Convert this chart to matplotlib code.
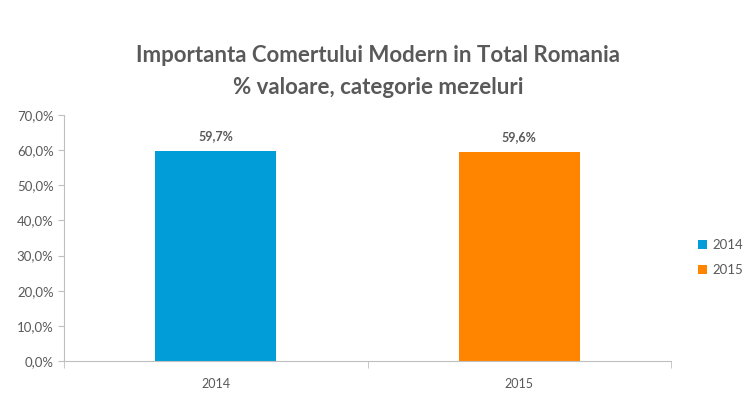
import numpy as np
import matplotlib.pyplot as plt

years = ['2014', '2015']
values = [59.7, 59.6]
labels = ['59,7%', '59,6%']
colors = ['#009DD9', '#FF8400']

plt.rcParams['font.family'] = ['Lato', 'DejaVu Sans']
gray = '#595959'

fig = plt.figure(figsize=(7.56, 4.19), dpi=100)
ax = fig.add_axes([64 / 756, 1 - 361 / 419, 607 / 756, (361 - 115) / 419])

x = np.arange(len(years))
bars = ax.bar(x, values, width=0.4, color=colors, label=years)
for xi, v, lab in zip(x, values, labels):
    ax.text(xi, v + 2.5, lab, ha='center', va='bottom', fontsize=9,
            fontweight='bold', color=gray)

ax.set_xlim(-0.5, 1.5)
ax.set_ylim(0, 70)
ax.set_yticks(np.arange(0, 71, 10))
ax.set_yticklabels([f'{t:.1f}%'.replace('.', ',') for t in np.arange(0, 71, 10)])
ax.set_xticks(x)
ax.set_xticklabels(years)
ax.set_xticks([-0.5, 0.5, 1.5], minor=True)
ax.tick_params(axis='x', which='major', length=0, pad=12, labelsize=9, colors=gray)
ax.tick_params(axis='x', which='minor', length=5, color='#BFBFBF')
ax.tick_params(axis='y', length=4, color='#BFBFBF', labelsize=9.5, labelcolor=gray)
for s in ['top', 'right']:
    ax.spines[s].set_visible(False)
for s in ['left', 'bottom']:
    ax.spines[s].set_color('#BFBFBF')

leg = ax.legend(bars, years, loc='center left', bbox_to_anchor=(1.025, 0.42),
                frameon=False, fontsize=9.5, handlelength=0.7, handleheight=0.7,
                labelspacing=1.0, handletextpad=0.4)
for t in leg.get_texts():
    t.set_color(gray)

fig.text(0.5, 1 - 55 / 419, 'Importanta Comertului Modern in Total Romania',
         ha='center', va='center', fontsize=16, fontweight='bold', color=gray)
fig.text(0.5, 1 - 87 / 419, '% valoare, categorie mezeluri',
         ha='center', va='center', fontsize=16, fontweight='bold', color=gray)

fig.savefig('out.png', dpi=100)
